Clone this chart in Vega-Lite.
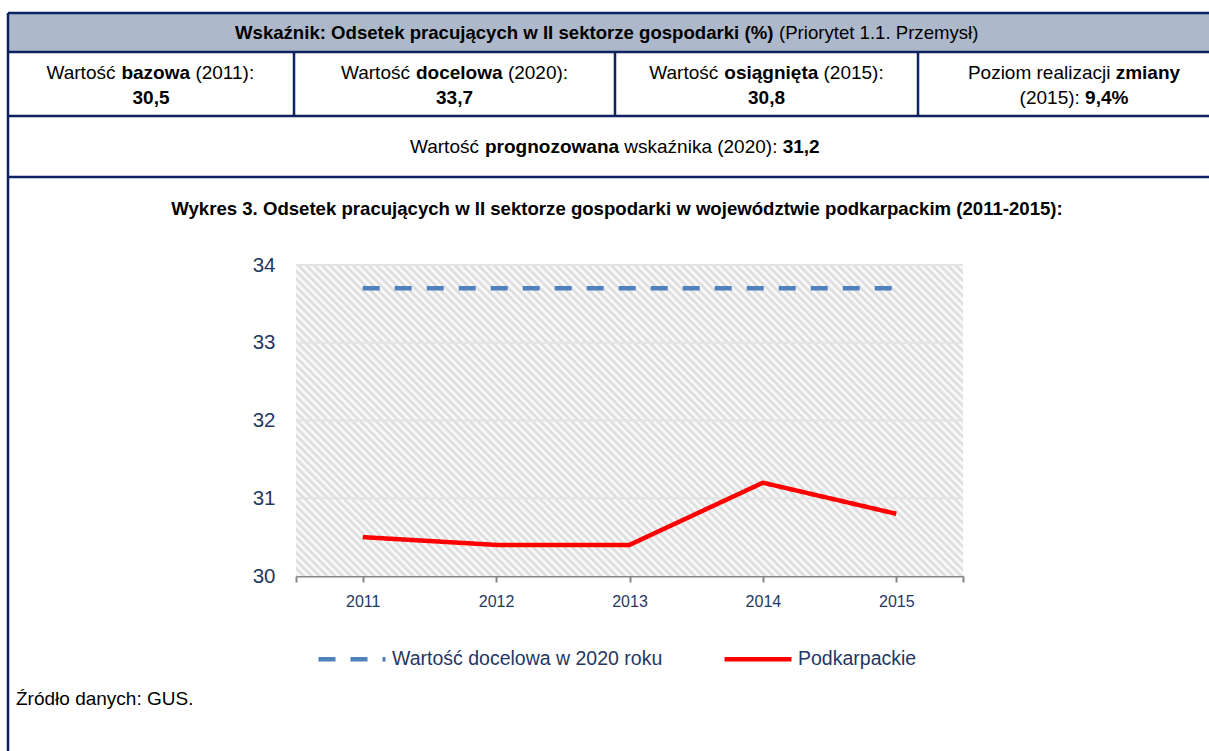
{
  "$schema": "https://vega.github.io/schema/vega-lite/v6.json",
  "width": 1209,
  "height": 751,
  "autosize": {"type": "none"},
  "padding": 0,
  "background": "#ffffff",
  "config": {
    "view": {"stroke": null},
    "font": "Liberation Sans",
    "text": {"color": "#000000", "font": "Liberation Sans", "baseline": "middle"}
  },
  "datasets": {
    "tbl": [
      {"k": "head", "c": 0, "r": 0, "c2": 4, "r2": 1},
      {"k": "line", "c": 0, "r": 0, "c2": 4, "r2": 0},
      {"k": "line", "c": 0, "r": 1, "c2": 4, "r2": 1},
      {"k": "line", "c": 0, "r": 2, "c2": 4, "r2": 2},
      {"k": "line", "c": 0, "r": 3, "c2": 4, "r2": 3},
      {"k": "line", "c": 0, "r": 0, "c2": 0, "r2": 4},
      {"k": "line", "c": 1, "r": 1, "c2": 1, "r2": 2},
      {"k": "line", "c": 2, "r": 1, "c2": 2, "r2": 2},
      {"k": "line", "c": 3, "r": 1, "c2": 3, "r2": 2},
      {"k": "h1", "t": "Wskaźnik: Odsetek pracujących w II sektorze gospodarki (%)", "c": 2, "r": 0.5},
      {"k": "h2", "t": "(Priorytet 1.1. Przemysł)", "c": 2, "r": 0.5},
      {"k": "a1", "t": "Wartość", "c": 0.5, "r": 1.5},
      {"k": "a2", "t": "bazowa", "c": 0.5, "r": 1.5},
      {"k": "a3", "t": "(2011):", "c": 0.5, "r": 1.5},
      {"k": "a4", "t": "30,5", "c": 0.5, "r": 1.5},
      {"k": "b1", "t": "Wartość", "c": 1.5, "r": 1.5},
      {"k": "b2", "t": "docelowa", "c": 1.5, "r": 1.5},
      {"k": "b3", "t": "(2020):", "c": 1.5, "r": 1.5},
      {"k": "b4", "t": "33,7", "c": 1.5, "r": 1.5},
      {"k": "d1", "t": "Wartość", "c": 2.5, "r": 1.5},
      {"k": "d2", "t": "osiągnięta", "c": 2.5, "r": 1.5},
      {"k": "d3", "t": "(2015):", "c": 2.5, "r": 1.5},
      {"k": "d4", "t": "30,8", "c": 2.5, "r": 1.5},
      {"k": "e1", "t": "Poziom realizacji", "c": 3.5, "r": 1.5},
      {"k": "e2", "t": "zmiany", "c": 3.5, "r": 1.5},
      {"k": "e3", "t": "(2015):", "c": 3.5, "r": 1.5},
      {"k": "e4", "t": "9,4%", "c": 3.5, "r": 1.5},
      {"k": "f1", "t": "Wartość", "c": 2, "r": 2.5},
      {"k": "f2", "t": "prognozowana", "c": 2, "r": 2.5},
      {"k": "f3", "t": "wskaźnika (2020):", "c": 2, "r": 2.5},
      {"k": "f4", "t": "31,2", "c": 2, "r": 2.5},
      {"k": "title", "t": "Wykres 3. Odsetek pracujących w II sektorze gospodarki w województwie podkarpackim (2011-2015):", "c": 2, "r": 3},
      {"k": "src", "t": "Źródło danych: GUS.", "c": 0, "r": 4}
    ],
    "series": [
      {"series": "Wartość docelowa w 2020 roku", "year": 2011, "value": 33.7},
      {"series": "Wartość docelowa w 2020 roku", "year": 2012, "value": 33.7},
      {"series": "Wartość docelowa w 2020 roku", "year": 2013, "value": 33.7},
      {"series": "Wartość docelowa w 2020 roku", "year": 2014, "value": 33.7},
      {"series": "Wartość docelowa w 2020 roku", "year": 2015, "value": 33.7},
      {"series": "Podkarpackie", "year": 2011, "value": 30.5},
      {"series": "Podkarpackie", "year": 2012, "value": 30.4},
      {"series": "Podkarpackie", "year": 2013, "value": 30.4},
      {"series": "Podkarpackie", "year": 2014, "value": 31.2},
      {"series": "Podkarpackie", "year": 2015, "value": 30.8}
    ]
  },
  "layer": [
    {
      "data": {"name": "tbl"},
      "encoding": {
        "x": {"field": "c", "type": "quantitative", "scale": {"domain": [0, 1, 2, 3, 4], "range": [8, 294, 615, 918, 1230], "zero": false, "nice": false}, "axis": null},
        "y": {"field": "r", "type": "quantitative", "scale": {"domain": [0, 1, 2, 3, 4], "range": [13, 52, 116, 177, 751], "zero": false, "nice": false}, "axis": null}
      },
      "layer": [
        {"transform": [{"filter": "datum.k === 'head'"}], "mark": {"type": "rect", "fill": "#adb9ca"}, "encoding": {"x2": {"field": "c2"}, "y2": {"field": "r2"}}},
        {"transform": [{"filter": "datum.k === 'line'"}], "mark": {"type": "rule", "color": "#0d2260", "strokeWidth": 2.5}, "encoding": {"x2": {"field": "c2"}, "y2": {"field": "r2"}}},
        {"transform": [{"filter": "datum.k === 'h1'"}], "mark": {"type": "text", "align": "left", "dx": -380, "fontSize": 18.6, "fontWeight": "bold"}, "encoding": {"text": {"field": "t"}}},
        {"transform": [{"filter": "datum.k === 'h2'"}], "mark": {"type": "text", "align": "left", "dx": 164, "fontSize": 18.6}, "encoding": {"text": {"field": "t"}}},
        {"transform": [{"filter": "datum.k === 'a1'"}], "mark": {"type": "text", "align": "left", "dx": -104.5, "dy": -11, "fontSize": 19}, "encoding": {"text": {"field": "t"}}},
        {"transform": [{"filter": "datum.k === 'a2'"}], "mark": {"type": "text", "align": "left", "dx": -29.6, "dy": -11, "fontSize": 19, "fontWeight": "bold"}, "encoding": {"text": {"field": "t"}}},
        {"transform": [{"filter": "datum.k === 'a3'"}], "mark": {"type": "text", "align": "left", "dx": 44.4, "dy": -11, "fontSize": 19}, "encoding": {"text": {"field": "t"}}},
        {"transform": [{"filter": "datum.k === 'a4'"}], "mark": {"type": "text", "align": "center", "dy": 14, "fontSize": 19, "fontWeight": "bold"}, "encoding": {"text": {"field": "t"}}},
        {"transform": [{"filter": "datum.k === 'b1'"}], "mark": {"type": "text", "align": "left", "dx": -113.5, "dy": -11, "fontSize": 19}, "encoding": {"text": {"field": "t"}}},
        {"transform": [{"filter": "datum.k === 'b2'"}], "mark": {"type": "text", "align": "left", "dx": -38.5, "dy": -11, "fontSize": 19, "fontWeight": "bold"}, "encoding": {"text": {"field": "t"}}},
        {"transform": [{"filter": "datum.k === 'b3'"}], "mark": {"type": "text", "align": "left", "dx": 53.4, "dy": -11, "fontSize": 19}, "encoding": {"text": {"field": "t"}}},
        {"transform": [{"filter": "datum.k === 'b4'"}], "mark": {"type": "text", "align": "center", "dy": 14, "fontSize": 19, "fontWeight": "bold"}, "encoding": {"text": {"field": "t"}}},
        {"transform": [{"filter": "datum.k === 'd1'"}], "mark": {"type": "text", "align": "left", "dx": -117.2, "dy": -11, "fontSize": 19}, "encoding": {"text": {"field": "t"}}},
        {"transform": [{"filter": "datum.k === 'd2'"}], "mark": {"type": "text", "align": "left", "dx": -42.2, "dy": -11, "fontSize": 19, "fontWeight": "bold"}, "encoding": {"text": {"field": "t"}}},
        {"transform": [{"filter": "datum.k === 'd3'"}], "mark": {"type": "text", "align": "left", "dx": 57.0, "dy": -11, "fontSize": 19}, "encoding": {"text": {"field": "t"}}},
        {"transform": [{"filter": "datum.k === 'd4'"}], "mark": {"type": "text", "align": "center", "dy": 14, "fontSize": 19, "fontWeight": "bold"}, "encoding": {"text": {"field": "t"}}},
        {"transform": [{"filter": "datum.k === 'e1'"}], "mark": {"type": "text", "align": "left", "dx": -106.1, "dy": -11, "fontSize": 19}, "encoding": {"text": {"field": "t"}}},
        {"transform": [{"filter": "datum.k === 'e2'"}], "mark": {"type": "text", "align": "left", "dx": 41.7, "dy": -11, "fontSize": 19, "fontWeight": "bold"}, "encoding": {"text": {"field": "t"}}},
        {"transform": [{"filter": "datum.k === 'e3'"}], "mark": {"type": "text", "align": "left", "dx": -54.4, "dy": 14, "fontSize": 19}, "encoding": {"text": {"field": "t"}}},
        {"transform": [{"filter": "datum.k === 'e4'"}], "mark": {"type": "text", "align": "left", "dx": 11.1, "dy": 14, "fontSize": 19, "fontWeight": "bold"}, "encoding": {"text": {"field": "t"}}},
        {"transform": [{"filter": "datum.k === 'f1'"}], "mark": {"type": "text", "align": "left", "dx": -205, "fontSize": 19}, "encoding": {"text": {"field": "t"}}},
        {"transform": [{"filter": "datum.k === 'f2'"}], "mark": {"type": "text", "align": "left", "dx": -130, "fontSize": 19, "fontWeight": "bold"}, "encoding": {"text": {"field": "t"}}},
        {"transform": [{"filter": "datum.k === 'f3'"}], "mark": {"type": "text", "align": "left", "dx": 9.3, "fontSize": 19}, "encoding": {"text": {"field": "t"}}},
        {"transform": [{"filter": "datum.k === 'f4'"}], "mark": {"type": "text", "align": "left", "dx": 167.7, "fontSize": 19, "fontWeight": "bold"}, "encoding": {"text": {"field": "t"}}},
        {"transform": [{"filter": "datum.k === 'title'"}], "mark": {"type": "text", "align": "center", "dx": 2, "dy": 32, "fontSize": 18.6, "fontWeight": "bold"}, "encoding": {"text": {"field": "t"}}},
        {"transform": [{"filter": "datum.k === 'src'"}], "mark": {"type": "text", "align": "left", "dx": 8, "dy": -52, "fontSize": 19}, "encoding": {"text": {"field": "t"}}}
      ]
    },
    {
      "layer": [
        {
          "data": {"values": [{}]},
          "mark": {"type": "rect", "fill": {"gradient": "linear", "x1": 0, "y1": 1, "x2": 1.2045, "y2": 0.4383, "stops": [
            {"offset": 0, "color": "#d9d9d9"}, {"offset": 0.004, "color": "#fff"}, {"offset": 0.008, "color": "#d9d9d9"}, {"offset": 0.012, "color": "#fff"}, {"offset": 0.016, "color": "#d9d9d9"}, {"offset": 0.02, "color": "#fff"}, {"offset": 0.024, "color": "#d9d9d9"}, {"offset": 0.028, "color": "#fff"}, {"offset": 0.032, "color": "#d9d9d9"}, {"offset": 0.036, "color": "#fff"},
            {"offset": 0.04, "color": "#d9d9d9"}, {"offset": 0.044, "color": "#fff"}, {"offset": 0.048, "color": "#d9d9d9"}, {"offset": 0.052, "color": "#fff"}, {"offset": 0.056, "color": "#d9d9d9"}, {"offset": 0.06, "color": "#fff"}, {"offset": 0.064, "color": "#d9d9d9"}, {"offset": 0.068, "color": "#fff"}, {"offset": 0.072, "color": "#d9d9d9"}, {"offset": 0.076, "color": "#fff"},
            {"offset": 0.08, "color": "#d9d9d9"}, {"offset": 0.084, "color": "#fff"}, {"offset": 0.088, "color": "#d9d9d9"}, {"offset": 0.092, "color": "#fff"}, {"offset": 0.096, "color": "#d9d9d9"}, {"offset": 0.1, "color": "#fff"}, {"offset": 0.104, "color": "#d9d9d9"}, {"offset": 0.108, "color": "#fff"}, {"offset": 0.112, "color": "#d9d9d9"}, {"offset": 0.116, "color": "#fff"},
            {"offset": 0.12, "color": "#d9d9d9"}, {"offset": 0.124, "color": "#fff"}, {"offset": 0.128, "color": "#d9d9d9"}, {"offset": 0.132, "color": "#fff"}, {"offset": 0.136, "color": "#d9d9d9"}, {"offset": 0.14, "color": "#fff"}, {"offset": 0.144, "color": "#d9d9d9"}, {"offset": 0.148, "color": "#fff"}, {"offset": 0.152, "color": "#d9d9d9"}, {"offset": 0.156, "color": "#fff"},
            {"offset": 0.16, "color": "#d9d9d9"}, {"offset": 0.164, "color": "#fff"}, {"offset": 0.168, "color": "#d9d9d9"}, {"offset": 0.172, "color": "#fff"}, {"offset": 0.176, "color": "#d9d9d9"}, {"offset": 0.18, "color": "#fff"}, {"offset": 0.184, "color": "#d9d9d9"}, {"offset": 0.188, "color": "#fff"}, {"offset": 0.192, "color": "#d9d9d9"}, {"offset": 0.196, "color": "#fff"},
            {"offset": 0.2, "color": "#d9d9d9"}, {"offset": 0.204, "color": "#fff"}, {"offset": 0.208, "color": "#d9d9d9"}, {"offset": 0.212, "color": "#fff"}, {"offset": 0.216, "color": "#d9d9d9"}, {"offset": 0.22, "color": "#fff"}, {"offset": 0.224, "color": "#d9d9d9"}, {"offset": 0.228, "color": "#fff"}, {"offset": 0.232, "color": "#d9d9d9"}, {"offset": 0.236, "color": "#fff"},
            {"offset": 0.24, "color": "#d9d9d9"}, {"offset": 0.244, "color": "#fff"}, {"offset": 0.248, "color": "#d9d9d9"}, {"offset": 0.252, "color": "#fff"}, {"offset": 0.256, "color": "#d9d9d9"}, {"offset": 0.26, "color": "#fff"}, {"offset": 0.264, "color": "#d9d9d9"}, {"offset": 0.268, "color": "#fff"}, {"offset": 0.272, "color": "#d9d9d9"}, {"offset": 0.276, "color": "#fff"},
            {"offset": 0.28, "color": "#d9d9d9"}, {"offset": 0.284, "color": "#fff"}, {"offset": 0.288, "color": "#d9d9d9"}, {"offset": 0.292, "color": "#fff"}, {"offset": 0.296, "color": "#d9d9d9"}, {"offset": 0.3, "color": "#fff"}, {"offset": 0.304, "color": "#d9d9d9"}, {"offset": 0.308, "color": "#fff"}, {"offset": 0.312, "color": "#d9d9d9"}, {"offset": 0.316, "color": "#fff"},
            {"offset": 0.32, "color": "#d9d9d9"}, {"offset": 0.324, "color": "#fff"}, {"offset": 0.328, "color": "#d9d9d9"}, {"offset": 0.332, "color": "#fff"}, {"offset": 0.336, "color": "#d9d9d9"}, {"offset": 0.34, "color": "#fff"}, {"offset": 0.344, "color": "#d9d9d9"}, {"offset": 0.348, "color": "#fff"}, {"offset": 0.352, "color": "#d9d9d9"}, {"offset": 0.356, "color": "#fff"},
            {"offset": 0.36, "color": "#d9d9d9"}, {"offset": 0.364, "color": "#fff"}, {"offset": 0.368, "color": "#d9d9d9"}, {"offset": 0.372, "color": "#fff"}, {"offset": 0.376, "color": "#d9d9d9"}, {"offset": 0.38, "color": "#fff"}, {"offset": 0.384, "color": "#d9d9d9"}, {"offset": 0.388, "color": "#fff"}, {"offset": 0.392, "color": "#d9d9d9"}, {"offset": 0.396, "color": "#fff"},
            {"offset": 0.4, "color": "#d9d9d9"}, {"offset": 0.404, "color": "#fff"}, {"offset": 0.408, "color": "#d9d9d9"}, {"offset": 0.412, "color": "#fff"}, {"offset": 0.416, "color": "#d9d9d9"}, {"offset": 0.42, "color": "#fff"}, {"offset": 0.424, "color": "#d9d9d9"}, {"offset": 0.428, "color": "#fff"}, {"offset": 0.432, "color": "#d9d9d9"}, {"offset": 0.436, "color": "#fff"},
            {"offset": 0.44, "color": "#d9d9d9"}, {"offset": 0.444, "color": "#fff"}, {"offset": 0.448, "color": "#d9d9d9"}, {"offset": 0.452, "color": "#fff"}, {"offset": 0.456, "color": "#d9d9d9"}, {"offset": 0.46, "color": "#fff"}, {"offset": 0.464, "color": "#d9d9d9"}, {"offset": 0.468, "color": "#fff"}, {"offset": 0.472, "color": "#d9d9d9"}, {"offset": 0.476, "color": "#fff"},
            {"offset": 0.48, "color": "#d9d9d9"}, {"offset": 0.484, "color": "#fff"}, {"offset": 0.488, "color": "#d9d9d9"}, {"offset": 0.492, "color": "#fff"}, {"offset": 0.496, "color": "#d9d9d9"}, {"offset": 0.5, "color": "#fff"}, {"offset": 0.504, "color": "#d9d9d9"}, {"offset": 0.508, "color": "#fff"}, {"offset": 0.512, "color": "#d9d9d9"}, {"offset": 0.516, "color": "#fff"},
            {"offset": 0.52, "color": "#d9d9d9"}, {"offset": 0.524, "color": "#fff"}, {"offset": 0.528, "color": "#d9d9d9"}, {"offset": 0.532, "color": "#fff"}, {"offset": 0.536, "color": "#d9d9d9"}, {"offset": 0.54, "color": "#fff"}, {"offset": 0.544, "color": "#d9d9d9"}, {"offset": 0.548, "color": "#fff"}, {"offset": 0.552, "color": "#d9d9d9"}, {"offset": 0.556, "color": "#fff"},
            {"offset": 0.56, "color": "#d9d9d9"}, {"offset": 0.564, "color": "#fff"}, {"offset": 0.568, "color": "#d9d9d9"}, {"offset": 0.572, "color": "#fff"}, {"offset": 0.576, "color": "#d9d9d9"}, {"offset": 0.58, "color": "#fff"}, {"offset": 0.584, "color": "#d9d9d9"}, {"offset": 0.588, "color": "#fff"}, {"offset": 0.592, "color": "#d9d9d9"}, {"offset": 0.596, "color": "#fff"},
            {"offset": 0.6, "color": "#d9d9d9"}, {"offset": 0.604, "color": "#fff"}, {"offset": 0.608, "color": "#d9d9d9"}, {"offset": 0.612, "color": "#fff"}, {"offset": 0.616, "color": "#d9d9d9"}, {"offset": 0.62, "color": "#fff"}, {"offset": 0.624, "color": "#d9d9d9"}, {"offset": 0.628, "color": "#fff"}, {"offset": 0.632, "color": "#d9d9d9"}, {"offset": 0.636, "color": "#fff"},
            {"offset": 0.64, "color": "#d9d9d9"}, {"offset": 0.644, "color": "#fff"}, {"offset": 0.648, "color": "#d9d9d9"}, {"offset": 0.652, "color": "#fff"}, {"offset": 0.656, "color": "#d9d9d9"}, {"offset": 0.66, "color": "#fff"}, {"offset": 0.664, "color": "#d9d9d9"}, {"offset": 0.668, "color": "#fff"}, {"offset": 0.672, "color": "#d9d9d9"}, {"offset": 0.676, "color": "#fff"},
            {"offset": 0.68, "color": "#d9d9d9"}, {"offset": 0.684, "color": "#fff"}, {"offset": 0.688, "color": "#d9d9d9"}, {"offset": 0.692, "color": "#fff"}, {"offset": 0.696, "color": "#d9d9d9"}, {"offset": 0.7, "color": "#fff"}, {"offset": 0.704, "color": "#d9d9d9"}, {"offset": 0.708, "color": "#fff"}, {"offset": 0.712, "color": "#d9d9d9"}, {"offset": 0.716, "color": "#fff"},
            {"offset": 0.72, "color": "#d9d9d9"}, {"offset": 0.724, "color": "#fff"}, {"offset": 0.728, "color": "#d9d9d9"}, {"offset": 0.732, "color": "#fff"}, {"offset": 0.736, "color": "#d9d9d9"}, {"offset": 0.74, "color": "#fff"}, {"offset": 0.744, "color": "#d9d9d9"}, {"offset": 0.748, "color": "#fff"}, {"offset": 0.752, "color": "#d9d9d9"}, {"offset": 0.756, "color": "#fff"},
            {"offset": 0.76, "color": "#d9d9d9"}, {"offset": 0.764, "color": "#fff"}, {"offset": 0.768, "color": "#d9d9d9"}, {"offset": 0.772, "color": "#fff"}, {"offset": 0.776, "color": "#d9d9d9"}, {"offset": 0.78, "color": "#fff"}, {"offset": 0.784, "color": "#d9d9d9"}, {"offset": 0.788, "color": "#fff"}, {"offset": 0.792, "color": "#d9d9d9"}, {"offset": 0.796, "color": "#fff"},
            {"offset": 0.8, "color": "#d9d9d9"}, {"offset": 0.804, "color": "#fff"}, {"offset": 0.808, "color": "#d9d9d9"}, {"offset": 0.812, "color": "#fff"}, {"offset": 0.816, "color": "#d9d9d9"}, {"offset": 0.82, "color": "#fff"}, {"offset": 0.824, "color": "#d9d9d9"}, {"offset": 0.828, "color": "#fff"}, {"offset": 0.832, "color": "#d9d9d9"}, {"offset": 0.836, "color": "#fff"},
            {"offset": 0.84, "color": "#d9d9d9"}, {"offset": 0.844, "color": "#fff"}, {"offset": 0.848, "color": "#d9d9d9"}, {"offset": 0.852, "color": "#fff"}, {"offset": 0.856, "color": "#d9d9d9"}, {"offset": 0.86, "color": "#fff"}, {"offset": 0.864, "color": "#d9d9d9"}, {"offset": 0.868, "color": "#fff"}, {"offset": 0.872, "color": "#d9d9d9"}, {"offset": 0.876, "color": "#fff"},
            {"offset": 0.88, "color": "#d9d9d9"}, {"offset": 0.884, "color": "#fff"}, {"offset": 0.888, "color": "#d9d9d9"}, {"offset": 0.892, "color": "#fff"}, {"offset": 0.896, "color": "#d9d9d9"}, {"offset": 0.9, "color": "#fff"}, {"offset": 0.904, "color": "#d9d9d9"}, {"offset": 0.908, "color": "#fff"}, {"offset": 0.912, "color": "#d9d9d9"}, {"offset": 0.916, "color": "#fff"},
            {"offset": 0.92, "color": "#d9d9d9"}, {"offset": 0.924, "color": "#fff"}, {"offset": 0.928, "color": "#d9d9d9"}, {"offset": 0.932, "color": "#fff"}, {"offset": 0.936, "color": "#d9d9d9"}, {"offset": 0.94, "color": "#fff"}, {"offset": 0.944, "color": "#d9d9d9"}, {"offset": 0.948, "color": "#fff"}, {"offset": 0.952, "color": "#d9d9d9"}, {"offset": 0.956, "color": "#fff"},
            {"offset": 0.96, "color": "#d9d9d9"}, {"offset": 0.964, "color": "#fff"}, {"offset": 0.968, "color": "#d9d9d9"}, {"offset": 0.972, "color": "#fff"}, {"offset": 0.976, "color": "#d9d9d9"}, {"offset": 0.98, "color": "#fff"}, {"offset": 0.984, "color": "#d9d9d9"}, {"offset": 0.988, "color": "#fff"}, {"offset": 0.992, "color": "#d9d9d9"}, {"offset": 0.996, "color": "#fff"},
            {"offset": 1, "color": "#d9d9d9"}
          ]}},
          "encoding": {
            "x": {"datum": 2010.5, "type": "quantitative", "scale": {"domain": [2010.5, 2015.5], "range": [296, 963], "zero": false, "nice": false},
              "axis": {"title": null, "values": [2010.5, 2011, 2012, 2013, 2014, 2015, 2015.5], "labelExpr": "datum.value % 1 === 0 ? '' + datum.value : ''", "offset": -175, "grid": false, "domainColor": "#868686", "domainWidth": 2, "tickColor": "#868686", "tickWidth": 2, "tickSize": 6, "labelPadding": 11, "labelFontSize": 16, "labelColor": "#1f3864", "labelFont": "Liberation Sans", "labelFlush": false, "labelOverlap": false}},
            "x2": {"datum": 2015.5},
            "y": {"datum": 30, "type": "quantitative", "scale": {"domain": [30, 34], "range": [576, 265], "zero": false, "nice": false},
              "axis": {"title": null, "values": [30, 31, 32, 33, 34], "format": "d", "offset": -296, "grid": false, "domain": false, "ticks": false, "tickSize": 0, "labelPadding": 21, "labelFontSize": 20.5, "labelColor": "#1f3864", "labelFont": "Liberation Sans", "labelFlush": false, "labelOverlap": false}},
            "y2": {"datum": 34}
          }
        },
        {
          "data": {"values": [{"g": 31}, {"g": 32}, {"g": 33}, {"g": 34}]},
          "mark": {"type": "rule", "color": "#e3e3e3", "strokeWidth": 2},
          "encoding": {
            "x": {"datum": 2010.5, "type": "quantitative"},
            "x2": {"datum": 2015.5},
            "y": {"field": "g", "type": "quantitative", "title": null}
          }
        },
        {
          "data": {"name": "series"},
          "mark": {"type": "line", "strokeWidth": 4.5, "strokeJoin": "round"},
          "encoding": {
            "x": {"field": "year", "type": "quantitative", "title": null},
            "y": {"field": "value", "type": "quantitative", "title": null},
            "color": {"field": "series", "type": "nominal",
              "scale": {"domain": ["Wartość docelowa w 2020 roku", "Podkarpackie"], "range": ["#4f81bd", "#ff0000"]},
              "legend": {"orient": "none", "legendX": 316, "legendY": 623, "direction": "horizontal", "title": null, "symbolType": "stroke", "symbolSize": 4489, "symbolStrokeWidth": 4.5, "labelFontSize": 19.5, "labelFont": "Liberation Sans", "labelColor": "#1f3864", "labelOffset": 4, "columnPadding": 52, "padding": 0, "labelLimit": 400}},
            "strokeDash": {"field": "series", "type": "nominal",
              "scale": {"domain": ["Wartość docelowa w 2020 roku", "Podkarpackie"], "range": [[17, 15], [1, 0]]},
              "legend": {"orient": "none", "legendX": 316, "legendY": 623, "direction": "horizontal", "title": null, "symbolType": "stroke", "symbolSize": 4489, "symbolStrokeWidth": 4.5, "labelFontSize": 19.5, "labelFont": "Liberation Sans", "labelColor": "#1f3864", "labelOffset": 4, "columnPadding": 52, "padding": 0, "labelLimit": 400}}
          }
        }
      ]
    }
  ],
  "resolve": {"scale": {"x": "independent", "y": "independent"}, "axis": {"x": "independent", "y": "independent"}}
}
